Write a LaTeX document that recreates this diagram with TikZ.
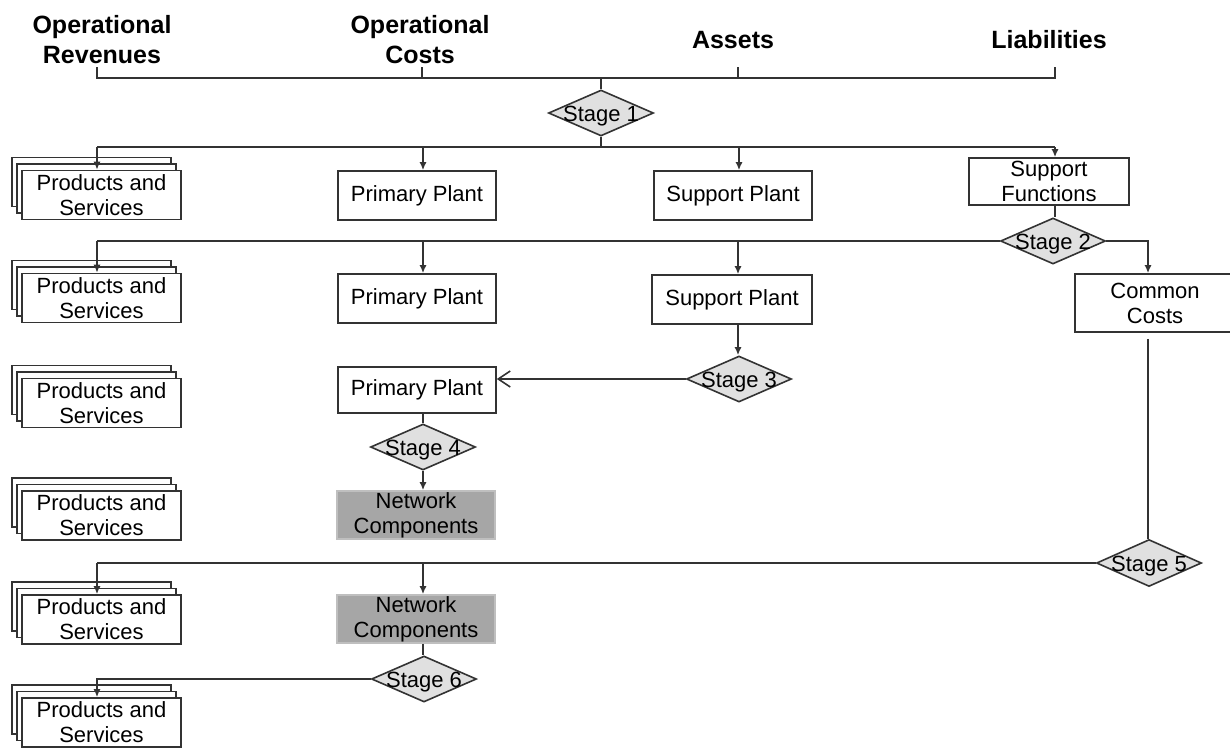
\documentclass[tikz,border=0pt]{standalone}
\usepackage{fontspec}
\setmainfont{Liberation Sans}
\usetikzlibrary{shapes.geometric,shadows,arrows.meta}

\begin{document}
\begin{tikzpicture}[x=1pt,y=-1pt,>={Latex[length=8pt,width=7pt]},
	wire/.style={draw=black!80,line width=1.6pt},
	head/.style={font=\fontsize{25}{30}\selectfont\bfseries,align=center,inner sep=0pt},
	box/.style={draw=black!80,fill=white,line width=1.6pt,minimum width=158pt,minimum height=49pt,
		align=center,inner sep=0pt,font=\fontsize{22}{25}\selectfont},
	prod/.style={box,minimum width=159pt,
		copy shadow={shadow xshift=-10pt,shadow yshift=13pt,draw=black!80,fill=white,line width=1.6pt},
		copy shadow={shadow xshift=-5pt,shadow yshift=6.5pt,draw=black!80,fill=white,line width=1.6pt}},
	net/.style={box,draw=black!25,fill=black!35},
	stage/.style={diamond,draw=black!80,fill=black!12,line width=1.6pt,minimum width=105pt,
		minimum height=46pt,inner sep=0pt,text height=0pt,text depth=0pt,font=\fontsize{22}{25}\selectfont}]
			\useasboundingbox (0,0) rectangle (1230,748);

			% Headers
			\node[head] (hrev) at (102,40) {Operational\\Revenues};
			\node[head] (hcost) at (420,40) {Operational\\Costs};
			\node[head] (hass) at (733,40) {Assets};
			\node[head] (hlia) at (1049,40) {Liabilities};

			% Stages
			\node[stage] (s1) at (601,113) {\makebox[0pt]{\raisebox{-8.5pt}{Stage 1}}};
			\node[stage] (s2) at (1053,241) {\makebox[0pt]{\raisebox{-8.5pt}{Stage 2}}};
			\node[stage] (s3) at (739,379) {\makebox[0pt]{\raisebox{-8.5pt}{Stage 3}}};
			\node[stage] (s4) at (423,447) {\makebox[0pt]{\raisebox{-8.5pt}{Stage 4}}};
			\node[stage,minimum height=47pt] (s5) at (1149,563) {\makebox[0pt]{\raisebox{-8.5pt}{Stage 5}}};
			\node[stage] (s6) at (424,679) {\makebox[0pt]{\raisebox{-8.5pt}{Stage 6}}};

			% Products and Services
			\node[prod] (ps1) at (101.5,195) {Products and\\Services};
			\node[prod] (ps2) at (101.5,298) {Products and\\Services};
			\node[prod] (ps3) at (101.5,403) {Products and\\Services};
			\node[prod] (ps4) at (101.5,515.5) {Products and\\Services};
			\node[prod] (ps5) at (101.5,619.5) {Products and\\Services};
			\node[prod] (ps6) at (101.5,722.5) {Products and\\Services};

			% Plants and costs
			\node[box] (pp1) at (417,195.5) {Primary Plant};
			\node[box] (sp1) at (733,195.5) {Support Plant};
			\node[box,minimum width=160pt,minimum height=47pt] (sf) at (1049,181.5) {Support\\Functions};
			\node[box] (pp2) at (417,298.5) {Primary Plant};
			\node[box,minimum width=160pt] (sp2) at (732,299.5) {Support Plant};
			\node[box,minimum width=160pt,minimum height=58pt] (cc) at (1155,303) {Common\\Costs};
			\node[box,minimum height=46pt] (pp3) at (417,390) {Primary Plant};
			\node[net,minimum height=48pt] (nc1) at (416,515) {Network\\Components};
			\node[net,minimum height=48pt] (nc2) at (416,619) {Network\\Components};

			% Bus points
			\coordinate (k1) at (97,67);
			\coordinate (k2) at (422,67);
			\coordinate (k3) at (738,67);
			\coordinate (k4) at (1055,67);
			\coordinate (t1) at (97,78);
			\coordinate (t2) at (422,78);
			\coordinate (t3) at (738,78);
			\coordinate (t4) at (1055,78);
			\coordinate (b1) at (97,147);
			\coordinate (b2) at (423,147);
			\coordinate (b3) at (739,147);
			\coordinate (b4) at (1055,147);
			\coordinate (c1) at (97,241);
			\coordinate (c2) at (423,241);
			\coordinate (c3) at (738,241);
			\coordinate (c4) at (1148,241);
			\coordinate (d1) at (97,563);
			\coordinate (d2) at (423,563);
			\coordinate (e1) at (97,679);

			% Stage 1
			\draw[wire] (k1) -- (t1) -- (t4) -- (k4);
			\draw[wire] (k2) -- (t2);
			\draw[wire] (k3) -- (t3);
			\draw[wire] (s1.north |- t1) -- (s1.north);
			\draw[wire] (s1.south) -- (s1.south |- b1);
			\draw[wire] (b1) -- (b4);
			\draw[wire,->] (b1) -- (b1 |- ps1.north);
			\draw[wire,->] (b2) -- (b2 |- pp1.north);
			\draw[wire,->] (b3) -- (b3 |- sp1.north);
			\draw[wire,->] (b4) -- (b4 |- sf.north);

			% Stage 2
			\draw[wire] (b4 |- sf.south) -- (b4 |- s2.north);
			\draw[wire] (s2.west) -- (c1);
			\draw[wire,->] (c1) -- (c1 |- ps2.north);
			\draw[wire,->] (c2) -- (c2 |- pp2.north);
			\draw[wire,->] (c3) -- (c3 |- sp2.north);
			\draw[wire,->] (s2.east) -- (c4) -- (c4 |- cc.north);

			% Stage 3 and 4
			\draw[wire,->] (c3 |- sp2.south) -- (c3 |- s3.north);
			\draw[wire,-{Straight Barb[length=12pt,width=16pt]}] (s3.west) -- (s3.west -| pp3.east);
			\draw[wire] (s4.north |- pp3.south) -- (s4.north);
			\draw[wire,->] (s4.south) -- (s4.south |- nc1.north);

			% Stage 5
			\draw[wire,shorten <=6pt] (c4 |- cc.south) -- (c4 |- s5.north);
			\draw[wire] (s5.west) -- (d1);
			\draw[wire,->] (d1) -- (d1 |- ps5.north);
			\draw[wire,->] (d2) -- (d2 |- nc2.north);

			% Stage 6
			\draw[wire] (d2 |- nc2.south) -- (d2 |- s6.north);
			\draw[wire,->] (s6.west) -- (e1) -- (e1 |- ps6.north);

		\end{tikzpicture}
\end{document}
